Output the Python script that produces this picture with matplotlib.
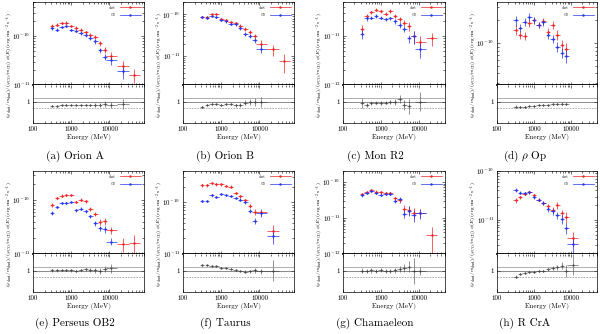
import numpy as np
import matplotlib
matplotlib.use('Agg')
import matplotlib.pyplot as plt
from matplotlib.lines import Line2D
from matplotlib.ticker import NullFormatter, FixedLocator, LogLocator

plt.rcParams['font.family'] = ['cmr10', 'DejaVu Serif']
plt.rcParams['mathtext.fontset'] = 'cm'
plt.rcParams['axes.formatter.use_mathtext'] = True
plt.rcParams['axes.unicode_minus'] = False

nan = np.nan

# energy bin centres (MeV) and half widths of the bins (dex)
energy = [316, 422, 562, 750, 1000, 1334, 1778, 2371, 3162, 4217, 5623, 7499, 11200, 22400, 44700]
half_dex = [0.0625, 0.0625, 0.0625, 0.0625, 0.0625, 0.0625, 0.0625, 0.0625,
            0.0625, 0.0625, 0.0625, 0.0625, 0.15, 0.15, 0.15]

captions = ['(a) Orion A', '(b) Orion B', '(c) Mon R2', r'(d) $\rho$ Op',
            '(e) Perseus OB2', '(f) Taurus', '(g) Chamaeleon', '(h) R CrA']

# (a) Orion A
red_a = [1.65e-10, 1.7e-10, 1.85e-10, 1.9e-10, 1.6e-10, 1.5e-10, 1.35e-10, 1.2e-10, 1.05e-10, 9.5e-11, 7.2e-11, 5.2e-11, 4.0e-11, 2.4e-11, 1.6e-11]
blue_a = [1.45e-10, 1.35e-10, 1.55e-10, 1.6e-10, 1.35e-10, 1.3e-10, 1.15e-10, 1.05e-10, 9.2e-11, 7.8e-11, 5.2e-11, 3.8e-11, 3.2e-11, 1.9e-11, nan]
err_a = [0.08, 0.07, 0.06, 0.06, 0.06, 0.06, 0.07, 0.07, 0.08, 0.1, 0.12, 0.15, 0.18, 0.3, 0.3]
ratio_a = [0.8, 0.82, 0.84, 0.84, 0.84, 0.85, 0.85, 0.85, 0.86, 0.85, 0.87, 0.9, 0.86, 0.9, nan]
rerr_a = [0.05, 0.04, 0.04, 0.04, 0.04, 0.04, 0.05, 0.05, 0.06, 0.08, 0.1, 0.12, 0.15, 0.25, nan]
ylim_a = (1e-11, 5e-10)

# (b) Orion B
red_b = [8.8e-11, 8.8e-11, 1.0e-10, 1.0e-10, 7.9e-11, 7.2e-11, 6.5e-11, 6.1e-11, 5.4e-11, 4.5e-11, 3.8e-11, 3.0e-11, 2.0e-11, 1.45e-11, 7.6e-12]
blue_b = [8.6e-11, 8.4e-11, 9.0e-11, 8.8e-11, 7.4e-11, 6.8e-11, 6.0e-11, 5.8e-11, 4.6e-11, 3.4e-11, 3.0e-11, 2.4e-11, 1.5e-11, nan, nan]
err_b = [0.06, 0.05, 0.05, 0.05, 0.05, 0.06, 0.06, 0.07, 0.08, 0.1, 0.12, 0.15, 0.2, 0.3, 0.5]
ratio_b = [0.75, 0.85, 0.88, 0.88, 0.87, 0.9, 0.9, 0.85, 0.85, 0.95, 1.0, 1.0, 1.0, nan, nan]
rerr_b = [0.06, 0.05, 0.05, 0.05, 0.05, 0.05, 0.06, 0.07, 0.08, 0.12, 0.15, 0.2, 0.25, nan, nan]
ylim_b = (2e-12, 2e-10)

# (c) Mon R2
red_c = [1.4e-11, 2.6e-11, 3.1e-11, 3.5e-11, 3.2e-11, 2.9e-11, 3.3e-11, 2.6e-11, 2.2e-11, 1.9e-11, 1.6e-11, 1.0e-11, 7.5e-12, 9e-12, nan]
blue_c = [1.1e-11, 2.3e-11, 2.4e-11, 2.6e-11, 2.4e-11, 2.2e-11, 2.3e-11, 2.0e-11, 1.7e-11, 1.4e-11, 9e-12, 1.0e-11, 5.5e-12, nan, nan]
err_c = [0.2, 0.1, 0.08, 0.08, 0.08, 0.08, 0.08, 0.1, 0.12, 0.15, 0.2, 0.3, 0.35, 0.3, nan]
ratio_c = [0.95, 0.85, 0.95, 0.97, 0.95, 0.97, 1.0, 0.98, 1.15, 0.85, 0.8, nan, 1.0, nan, nan]
rerr_c = [0.25, 0.1, 0.1, 0.08, 0.08, 0.08, 0.1, 0.15, 0.2, 0.25, 0.35, nan, 0.45, nan, nan]
ylim_c = (1e-12, 5e-11)

# (d) rho Oph
red_d = [1.5e-10, 1.3e-10, 1.25e-10, 1.85e-10, 2.0e-10, 1.75e-10, 1.95e-10, 1.4e-10, 1.75e-10, 1.3e-10, 9.5e-11, 8.5e-11, nan, nan, nan]
blue_d = [2.0e-10, 1.6e-10, 1.9e-10, 2.25e-10, 2.0e-10, 1.75e-10, 1.9e-10, 1.3e-10, 1.15e-10, 9.0e-11, 7.5e-11, 6.8e-11, nan, nan, nan]
err_d = [0.15, 0.13, 0.12, 0.12, 0.1, 0.1, 0.1, 0.12, 0.12, 0.14, 0.16, 0.2, nan, nan, nan]
ratio_d = [0.78, 0.76, 0.76, 0.8, 0.82, 0.85, 0.86, 0.87, 0.88, 0.9, 0.92, 0.9, nan, nan, nan]
rerr_d = [0.05, 0.05, 0.05, 0.05, 0.05, 0.05, 0.05, 0.05, 0.05, 0.05, 0.06, 0.06, nan, nan, nan]
ylim_d = (2.8e-11, 3.5e-10)

# (e) Perseus OB2
red_e = [8.2e-11, 1.1e-10, 1.22e-10, 1.27e-10, 1.27e-10, 9.3e-11, 1.02e-10, 9.6e-11, 7.0e-11, 5.6e-11, 4.0e-11, 4.1e-11, 2.8e-11, 1.55e-11, 1.6e-11]
blue_e = [5.8e-11, 7.5e-11, 8.8e-11, 8.8e-11, 9.2e-11, 6.5e-11, 7.0e-11, 6.2e-11, 5.0e-11, 3.7e-11, 3.0e-11, 2.9e-11, 1.7e-11, nan, nan]
err_e = [0.08, 0.06, 0.05, 0.05, 0.05, 0.06, 0.06, 0.07, 0.08, 0.1, 0.12, 0.15, 0.15, 0.3, 0.4]
ratio_e = [1.02, 1.02, 1.05, 1.05, 1.02, 1.0, 1.05, 1.08, 1.05, 1.02, 1.0, 1.08, 1.12, nan, nan]
rerr_e = [0.08, 0.06, 0.05, 0.05, 0.05, 0.05, 0.06, 0.08, 0.1, 0.12, 0.15, 0.15, 0.2, nan, nan]
ylim_e = (1e-11, 3.5e-10)

# (f) Taurus
red_f = [2.1e-10, 2.1e-10, 2.35e-10, 2.2e-10, 2.2e-10, 2.05e-10, 2.0e-10, 1.5e-10, 1.3e-10, 1.08e-10, 8.4e-11, 6.5e-11, 6.5e-11, 2.8e-11, nan]
blue_f = [1.05e-10, 1.05e-10, 1.35e-10, 1.25e-10, 1.45e-10, 1.4e-10, 1.3e-10, 1.2e-10, 1.12e-10, 1.0e-10, 6.8e-11, 4.4e-11, 6.2e-11, 2.2e-11, nan]
err_f = [0.05, 0.05, 0.05, 0.05, 0.05, 0.05, 0.05, 0.06, 0.07, 0.08, 0.1, 0.12, 0.15, 0.3, nan]
ratio_f = [1.3, 1.27, 1.25, 1.22, 1.15, 1.12, 1.1, 1.05, 1.0, 0.97, 0.98, 1.02, 0.98, 1.0, nan]
rerr_f = [0.05, 0.05, 0.04, 0.04, 0.04, 0.04, 0.05, 0.05, 0.06, 0.07, 0.08, 0.1, 0.12, 0.5, nan]
ylim_f = (1e-11, 4e-10)

# (g) Chamaeleon
red_g = [4.6e-11, 5.3e-11, 6.0e-11, 5.4e-11, 5.1e-11, 4.9e-11, 4.8e-11, 3.5e-11, 3.1e-11, 1.8e-11, 1.7e-11, 1.4e-11, 1.4e-11, 3.4e-12, nan]
blue_g = [4.3e-11, 5.0e-11, 5.7e-11, 4.8e-11, 4.4e-11, 4.6e-11, 4.7e-11, 2.9e-11, 3.3e-11, 1.3e-11, 1.6e-11, 1.2e-11, 1.35e-11, nan, nan]
err_g = [0.1, 0.08, 0.07, 0.07, 0.08, 0.08, 0.1, 0.12, 0.15, 0.25, 0.3, 0.35, 0.3, 0.7, nan]
ratio_g = [1.0, 1.0, 1.02, 1.0, 1.05, 1.0, 1.0, 1.02, 1.1, 1.15, 1.2, 1.0, 1.0, nan, nan]
rerr_g = [0.12, 0.1, 0.1, 0.1, 0.1, 0.1, 0.1, 0.12, 0.15, 0.2, 0.25, 0.6, 0.2, nan, nan]
ylim_g = (1e-12, 2e-10)

# (h) R CrA
red_h = [2.5e-11, 2.9e-11, 3.4e-11, 3.7e-11, 3.2e-11, 2.6e-11, 2.2e-11, 1.9e-11, 1.6e-11, 2.0e-11, 1.35e-11, 1.15e-11, 4.2e-12, nan, nan]
blue_h = [4.1e-11, 3.6e-11, 3.5e-11, 3.7e-11, 2.9e-11, 2.6e-11, 2.2e-11, 1.65e-11, 1.5e-11, 1.25e-11, 1.05e-11, 6.8e-12, 3.2e-12, nan, nan]
err_h = [0.1, 0.08, 0.07, 0.07, 0.08, 0.08, 0.1, 0.12, 0.15, 0.15, 0.2, 0.25, 0.35, nan, nan]
ratio_h = [0.72, 0.85, 0.92, 0.95, 0.95, 0.98, 1.0, 1.08, 1.12, 1.18, 1.25, 1.0, 1.3, nan, nan]
rerr_h = [0.08, 0.06, 0.05, 0.05, 0.05, 0.05, 0.06, 0.08, 0.1, 0.12, 0.15, 0.3, 0.5, nan, nan]
ylim_h = (2e-12, 1e-10)

panels = [
    (red_a, blue_a, err_a, ratio_a, rerr_a, ylim_a),
    (red_b, blue_b, err_b, ratio_b, rerr_b, ylim_b),
    (red_c, blue_c, err_c, ratio_c, rerr_c, ylim_c),
    (red_d, blue_d, err_d, ratio_d, rerr_d, ylim_d),
    (red_e, blue_e, err_e, ratio_e, rerr_e, ylim_e),
    (red_f, blue_f, err_f, ratio_f, rerr_f, ylim_f),
    (red_g, blue_g, err_g, ratio_g, rerr_g, ylim_g),
    (red_h, blue_h, err_h, ratio_h, rerr_h, ylim_h),
]

W, H = 600, 334
fig = plt.figure(figsize=(6, 3.34), dpi=100)

# frame positions in pixels
col_left = [33, 183, 343, 497]
col_right = [144, 294, 445, 597]
col_xmax = [8e4, 8e4, 5e4, 5e4]
rows = [(2, 85, 123), (171, 254, 292)]

RED = '#ee2222'
BLUE = '#2233ee'

ylabel = (r'$(\varphi_{\rm dust}/m_{\rm dust})/(\varphi_{\rm CO}/m_{\rm CO})\ \phi(E)$'
          r' (erg cm$^{-2}$ s$^{-1}$)')


def add_px_axes(x0, y0, x1, y1):
    return fig.add_axes([x0 / W, 1 - y1 / H, (x1 - x0) / W, (y1 - y0) / H])


def style_ticks(ax):
    ax.tick_params(which='both', direction='in', top=True, right=True,
                   width=0.4, labelsize=5, pad=2)
    ax.tick_params(which='major', length=2.5)
    ax.tick_params(which='minor', length=1.2)
    for s in ax.spines.values():
        s.set_linewidth(0.5)


E = np.array(energy, dtype=float)
hw = np.array(half_dex)
xerr = [E - E / 10 ** hw, E * 10 ** hw - E]

for i, (red, blue, err, ratio, rerr, ylim) in enumerate(panels):
    col, row = i % 4, i // 4
    x0, x1 = col_left[col], col_right[col]
    top, mid, bot = rows[row]

    ax = add_px_axes(x0, top, x1, mid)
    axr = add_px_axes(x0, mid, x1, bot)

    red = np.array(red)
    blue = np.array(blue)
    err = np.array(err)
    ax.errorbar(E, red, xerr=xerr, yerr=red * err, fmt='.', color=RED,
                ms=1.5, elinewidth=0.5, capsize=0)
    ax.errorbar(E, blue, xerr=xerr, yerr=blue * err, fmt='.', color=BLUE,
                ms=1.5, elinewidth=0.5, capsize=0)
    ax.set_xscale('log')
    ax.set_yscale('log')
    ax.set_xlim(100, col_xmax[col])
    ax.set_ylim(*ylim)
    # decade labels that fall inside the frame only
    lo, hi = np.ceil(np.log10(ylim[0]) - 1e-9), np.floor(np.log10(ylim[1]) + 1e-9)
    ax.yaxis.set_major_locator(FixedLocator(10.0 ** np.arange(lo, hi + 1)))
    ax.yaxis.set_minor_locator(LogLocator(base=10, subs=np.arange(2, 10)))
    ax.yaxis.set_minor_formatter(NullFormatter())
    ax.xaxis.set_minor_formatter(NullFormatter())
    ax.tick_params(labelbottom=False)
    style_ticks(ax)
    ax.spines['bottom'].set_linewidth(1.3)
    handles = [Line2D([], [], color=RED, lw=0.5, marker='.', ms=1.5),
               Line2D([], [], color=BLUE, lw=0.5, marker='.', ms=1.5)]
    ax.legend(handles, ['dust', 'CO'], loc='upper right', frameon=False,
              fontsize=2.5, handlelength=6, markerfirst=False, numpoints=1,
              borderaxespad=0.6, labelspacing=1.0, handletextpad=1.2)

    ratio = np.array(ratio)
    axr.errorbar(E, ratio, xerr=xerr, yerr=rerr, fmt='.', color='0.25',
                 ms=1, elinewidth=0.4, capsize=0)
    axr.axhline(1.2, color='0.45', lw=0.4)
    axr.axhline(1.0, color='0.2', lw=0.4)
    axr.axhline(0.7, color='0.45', lw=0.4, ls=(0, (3, 2)))
    axr.set_xscale('log')
    axr.set_xlim(100, col_xmax[col])
    axr.set_ylim(0, 1.8)
    axr.set_yticks([1])
    axr.set_yticklabels(['1'])
    axr.xaxis.set_major_locator(FixedLocator([100, 1000, 10000]))
    axr.set_xticklabels(['100', '1000', '10000'])
    axr.xaxis.set_minor_formatter(NullFormatter())
    style_ticks(axr)
    axr.spines['top'].set_visible(False)
    axr.set_xlabel('Energy (MeV)', fontsize=5, labelpad=2)

    fig.text((x0 - 23) / W, 1 - (top + 5 + bot) / 2 / H, ylabel, fontsize=3.7,
             rotation=90, ha='center', va='center')
    fig.text((75 + 150 * col) / W, 1 - (156 + 167 * row) / H, captions[i],
             fontsize=8, ha='center', va='center')

fig.savefig('out.png', dpi=100)
